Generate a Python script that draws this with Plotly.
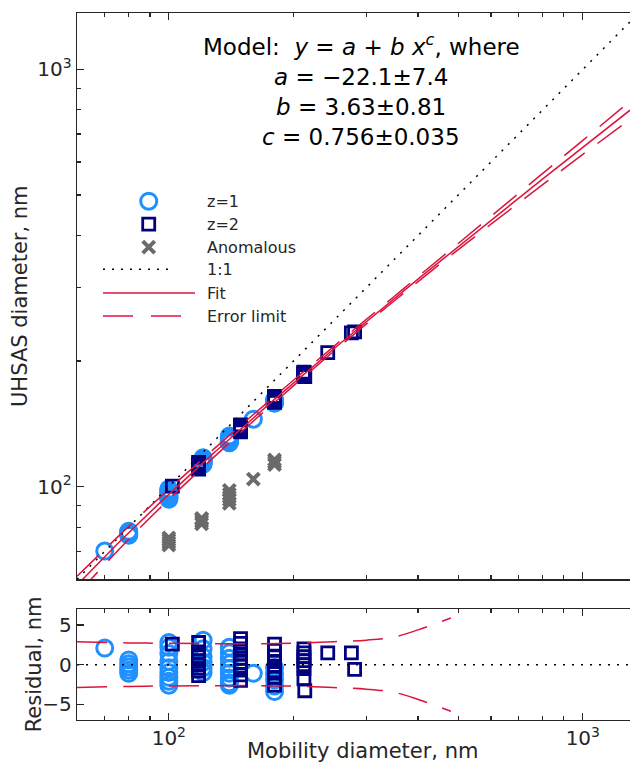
import numpy as np
import plotly.graph_objects as go

# ---------------- data ----------------
# model parameters (from the annotation)
a_fit, b_fit, c_fit = -22.1, 3.63, 0.756

# z=1 points: mobility diameter (nm) and residual (nm)
z1_mobility = [70,
               80, 80, 80, 80, 80,
               100, 100, 100, 100, 100, 100, 100, 100, 100,
               121, 121, 121, 121, 121, 121,
               140, 140, 140, 140, 140, 140, 140, 140, 140,
               160,
               180, 180, 180, 180, 180]
z1_residual = [2.1,
               0.6, 0.1, -0.3, -0.7, -1.1,
               2.8, 2.2, 1.4, 0.4, -0.4, -1.0, -1.6, -2.1, -2.6,
               3.1, 2.0, 1.0, 0.3, -0.4, -1.0,
               2.2, 1.5, 0.8, 0.1, -0.5, -1.1, -1.7, -2.3, -2.6,
               -1.1,
               -0.4, -1.2, -1.9, -2.7, -3.4]

# z=2 points
z2_mobility = [102,
               118, 118, 118, 118, 118, 118, 118, 118,
               149, 149, 149, 149, 149, 149, 149, 149, 149, 149,
               180, 180, 180, 180, 180, 180, 180, 180,
               212, 212, 212, 212, 212, 212, 212, 213,
               242, 276, 281]
z2_residual = [2.6,
               2.8, 1.6, 1.0, 0.5, 0.0, -0.4, -0.8, -1.4,
               3.3, 2.7, 2.0, 1.4, 0.8, 0.3, -0.2, -0.7, -1.3, -2.0,
               2.6, 1.8, 1.0, 0.4, -0.2, -0.8, -1.6, -2.6,
               2.0, 1.5, 1.0, 0.5, 0.0, -0.5, -1.8, -3.3,
               1.5, 1.5, -0.6]

# anomalous points (mobility, UHSAS)
anom_mobility = [100, 100, 100, 100, 120, 120, 120, 120,
                 140, 140, 140, 140, 140, 160, 180, 180, 180]
anom_uhsas = [72.5, 73.5, 74.5, 75.4, 81.5, 82.5, 83.5, 84.0,
              91.2, 93.0, 94.5, 96.0, 98.0, 104.3, 113.0, 114.5, 116.0]

# error limit half-width (nm) vs mobility diameter
err_mobility = [60, 80, 100, 150, 200, 250, 300, 350, 400, 480, 600, 800, 1000, 1300]
err_nm = [2.9, 2.75, 2.7, 2.65, 2.7, 2.9, 3.1, 3.5, 4.4, 5.9, 9.5, 17, 25, 40]

x_range = [60, 1300]
y_range = [60, 1365]
res_range = [-7, 7]

# ---------------- derived ----------------
def model(x):
    x = np.asarray(x, dtype=float)
    return a_fit + b_fit * x ** c_fit

z1_x = np.array(z1_mobility, float)
z1_y = model(z1_x) + np.array(z1_residual)
z2_x = np.array(z2_mobility, float)
z2_y = model(z2_x) + np.array(z2_residual)

xf = np.logspace(np.log10(x_range[0]), np.log10(x_range[1]), 300)
ex = np.array(err_mobility, float)
ee = np.array(err_nm, float)

BLUE = "#1E90FF"
NAVY = "#000080"
GRAY = "#6a6a6a"
RED = "#DC143C"
AX = "#262626"
FONT = "DejaVu Sans"
DASH_ERR = "30px,16px"
DOT = "2px,7px"

CIRC = dict(symbol="circle-open", size=16, color=BLUE, line=dict(width=3, color=BLUE))
SQR = dict(symbol="square-open", size=12, color=NAVY, line=dict(width=2.8, color=NAVY))
XMK = dict(symbol="x-thin-open", size=12, color=GRAY, line=dict(width=4, color=GRAY))

fig = go.Figure()

# ---- top panel ----
fig.add_trace(go.Scatter(x=z1_x, y=z1_y, mode="markers", xaxis="x", yaxis="y", marker=CIRC))
fig.add_trace(go.Scatter(x=z2_x, y=z2_y, mode="markers", xaxis="x", yaxis="y", marker=SQR))
fig.add_trace(go.Scatter(x=anom_mobility, y=anom_uhsas, mode="markers", xaxis="x", yaxis="y", marker=XMK))
fig.add_trace(go.Scatter(x=x_range, y=x_range, mode="lines", xaxis="x", yaxis="y",
                         line=dict(color="black", width=1.5, dash=DOT)))
fig.add_trace(go.Scatter(x=xf, y=model(xf), mode="lines", xaxis="x", yaxis="y",
                         line=dict(color=RED, width=1.5)))
fig.add_trace(go.Scatter(x=ex, y=model(ex) + ee, mode="lines", xaxis="x", yaxis="y",
                         line=dict(color=RED, width=1.5, dash=DASH_ERR, shape="spline")))
fig.add_trace(go.Scatter(x=ex, y=model(ex) - ee, mode="lines", xaxis="x", yaxis="y",
                         line=dict(color=RED, width=1.5, dash=DASH_ERR, shape="spline")))

# ---- residual panel ----
fig.add_trace(go.Scatter(x=z1_x, y=z1_residual, mode="markers", xaxis="x2", yaxis="y2", marker=CIRC))
fig.add_trace(go.Scatter(x=z2_x, y=z2_residual, mode="markers", xaxis="x2", yaxis="y2", marker=SQR))
fig.add_trace(go.Scatter(x=x_range, y=[0, 0], mode="lines", xaxis="x2", yaxis="y2",
                         line=dict(color="black", width=1.5, dash=DOT)))
mask = ex <= 480
fig.add_trace(go.Scatter(x=ex[mask], y=ee[mask], mode="lines", xaxis="x2", yaxis="y2",
                         line=dict(color=RED, width=1.5, dash=DASH_ERR, shape="spline")))
fig.add_trace(go.Scatter(x=ex[mask], y=-ee[mask], mode="lines", xaxis="x2", yaxis="y2",
                         line=dict(color=RED, width=1.5, dash=DASH_ERR, shape="spline")))

# ---- manual legend on an overlay (0..1) axis of the top panel ----
leg_labels = ["z=1", "z=2", "Anomalous", "1:1", "Fit", "Error limit"]
leg_y = [0.6677, 0.6271, 0.5865, 0.5477, 0.5054, 0.4648]
mx = 0.1297
fig.add_trace(go.Scatter(x=[mx], y=[leg_y[0]], mode="markers", xaxis="x3", yaxis="y3", marker=CIRC))
fig.add_trace(go.Scatter(x=[mx], y=[leg_y[1]], mode="markers", xaxis="x3", yaxis="y3", marker=SQR))
fig.add_trace(go.Scatter(x=[mx], y=[leg_y[2]], mode="markers", xaxis="x3", yaxis="y3", marker=XMK))
fig.add_trace(go.Scatter(x=[0.047, 0.1655], y=[leg_y[3]] * 2, mode="lines", xaxis="x3", yaxis="y3",
                         line=dict(color="black", width=1.5, dash=DOT)))
fig.add_trace(go.Scatter(x=[0.047, 0.2134], y=[leg_y[4]] * 2, mode="lines", xaxis="x3", yaxis="y3",
                         line=dict(color=RED, width=1.5)))
fig.add_trace(go.Scatter(x=[0.047, 0.192], y=[leg_y[5]] * 2, mode="lines", xaxis="x3", yaxis="y3",
                         line=dict(color=RED, width=1.5, dash="30px,18px")))

annotations = []
for lab, yy in zip(leg_labels, leg_y):
    annotations.append(dict(x=0.2315, y=yy, xref="x3", yref="y3", text=lab, showarrow=False,
                            xanchor="left", yanchor="middle", font=dict(size=16, color=AX, family=FONT)))

model_lines = ["Model:  <i>y</i> = <i>a</i> + <i>b x</i><sup><i>c</i></sup>, where",
               "<i>a</i> = −22.1±7.4",
               "<i>b</i> = 3.63±0.81",
               "<i>c</i> = 0.756±0.035"]
model_y = [0.943, 0.8865, 0.8336, 0.7806]
for t, yy in zip(model_lines, model_y):
    annotations.append(dict(x=0.5136, y=yy, xref="x3", yref="y3", text=t, showarrow=False,
                            xanchor="center", yanchor="middle", font=dict(size=23, color="black", family=FONT)))

# axis titles as annotations (paper coords: x in [77,630] px, y in [13,720] px)
annotations.append(dict(x=(362 - 77) / 553, y=(720 - 751) / 707, xref="paper", yref="paper",
                        text="Mobility diameter, nm", showarrow=False, xanchor="center", yanchor="middle",
                        font=dict(size=21, color=AX, family=FONT)))
annotations.append(dict(x=(20 - 77) / 553, y=(720 - 296) / 707, xref="paper", yref="paper",
                        text="UHSAS diameter, nm", showarrow=False, textangle=-90,
                        xanchor="center", yanchor="middle", font=dict(size=21, color=AX, family=FONT)))
annotations.append(dict(x=(34 - 77) / 553, y=(720 - 664.3) / 707, xref="paper", yref="paper",
                        text="Residual, nm", showarrow=False, textangle=-90,
                        xanchor="center", yanchor="middle", font=dict(size=21, color=AX, family=FONT)))

minor_vals = [60, 70, 80, 90, 200, 300, 400, 500, 600, 700, 800, 900]
axis_common = dict(showline=True, linecolor=AX, linewidth=1.3,
                   ticks="inside", ticklen=7, tickwidth=1.3, tickcolor=AX,
                   showgrid=False, zeroline=False,
                   tickfont=dict(size=20, color=AX, family=FONT))
log_minor = dict(tickmode="array", tickvals=minor_vals, ticks="inside", ticklen=4,
                 tickwidth=1.2, tickcolor=AX, showgrid=False)
dec_vals = [100, 1000]
dec_text = ["10<sup>2</sup>", "10<sup>3</sup>"]

top_lo = (720 - 579.3) / 707
res_hi = (720 - 609.3) / 707

fig.update_traces(showlegend=False, hoverinfo="skip")
fig.update_layout(
    width=630, height=762,
    margin=dict(l=77, r=0, t=13, b=42),
    paper_bgcolor="white", plot_bgcolor="white",
    showlegend=False,
    font=dict(family=FONT, color=AX),
    xaxis=dict(type="log", range=[np.log10(x_range[0]), np.log10(x_range[1])], domain=[0, 1],
               anchor="y", tickmode="array", tickvals=dec_vals, ticktext=dec_text, mirror="ticks",
               showticklabels=False, minor=log_minor, **axis_common),
    yaxis=dict(type="log", range=[np.log10(y_range[0]), np.log10(y_range[1])], domain=[top_lo, 1],
               anchor="x", tickmode="array", tickvals=dec_vals, ticktext=dec_text, mirror=False,
               minor=log_minor, **axis_common),
    xaxis2=dict(type="log", range=[np.log10(x_range[0]), np.log10(x_range[1])], domain=[0, 1],
                anchor="y2", tickmode="array", tickvals=dec_vals, ticktext=dec_text, mirror="ticks",
                minor=log_minor, **axis_common),
    yaxis2=dict(range=res_range, domain=[0, res_hi], anchor="x2", mirror=False,
                tickmode="array", tickvals=[-5, 0, 5], **axis_common),
    xaxis3=dict(overlaying="x", range=[0, 1], visible=False, anchor="y3"),
    yaxis3=dict(overlaying="y", range=[0, 1], visible=False, anchor="x3"),
    annotations=annotations,
)

fig.write_html("out.html", config={"displayModeBar": False, "staticPlot": True},
               post_script="document.body.style.margin='0px';")
